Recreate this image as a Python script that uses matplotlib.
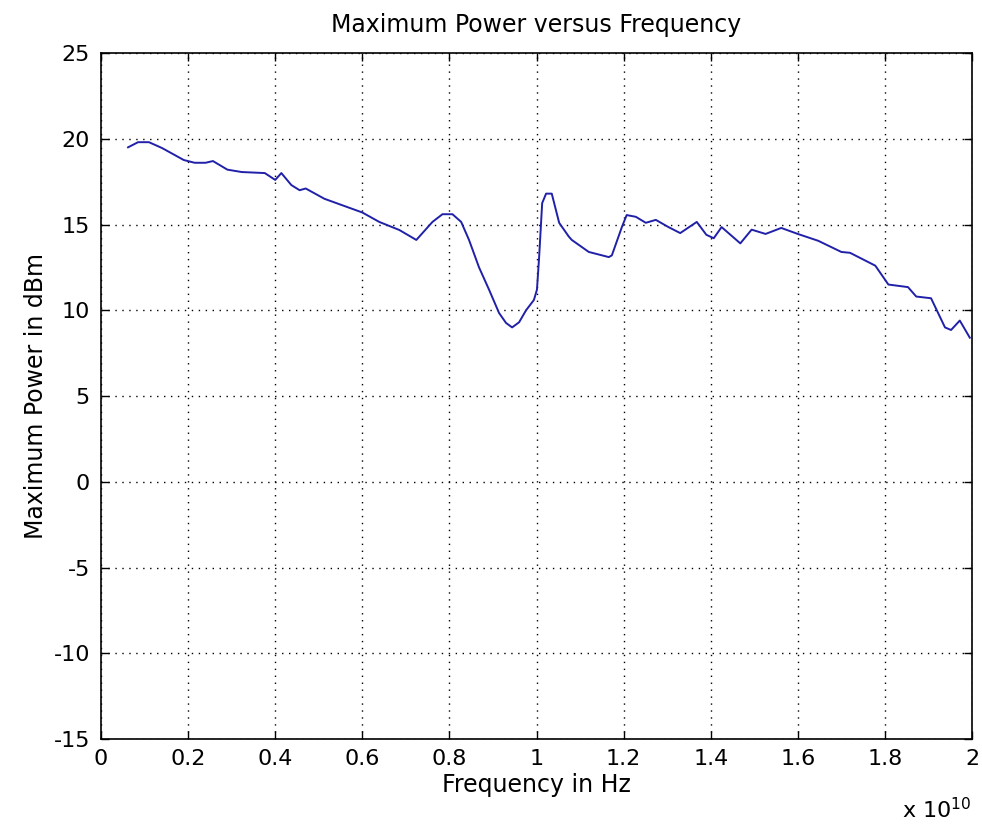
import numpy as np
import matplotlib.pyplot as plt
from matplotlib.ticker import FuncFormatter

# frequency in units of 1e10 Hz, power in dBm
freq_e10 = [0.062, 0.085, 0.11, 0.14, 0.19, 0.215, 0.24, 0.257, 0.29, 0.323,
            0.376, 0.40, 0.414, 0.437, 0.456, 0.47, 0.513, 0.60, 0.639, 0.685,
            0.724, 0.761, 0.784, 0.807, 0.827, 0.845, 0.868, 0.891, 0.914, 0.93,
            0.944, 0.96, 0.976, 0.994, 1.001, 1.006, 1.013, 1.022, 1.035, 1.052,
            1.074, 1.081, 1.12, 1.166, 1.173, 1.196, 1.207, 1.228, 1.251,
            1.274, 1.303, 1.33, 1.368, 1.39, 1.407, 1.425, 1.468, 1.494, 1.526,
            1.562, 1.60, 1.647, 1.70, 1.72, 1.778, 1.808, 1.853, 1.872, 1.906,
            1.938, 1.952, 1.972, 1.995]
power_dbm = [19.5, 19.8, 19.8, 19.46, 18.76, 18.6, 18.6, 18.7, 18.2, 18.06,
             18.0, 17.6, 18.0, 17.3, 17.0, 17.1, 16.5, 15.7, 15.15, 14.68,
             14.1, 15.15, 15.6, 15.6, 15.15, 14.1, 12.5, 11.2, 9.84, 9.26,
             9.0, 9.3, 10.0, 10.6, 11.2, 13.1, 16.25, 16.8, 16.8, 15.1,
             14.3, 14.1, 13.4, 13.1, 13.2, 14.85, 15.55, 15.45, 15.1,
             15.27, 14.85, 14.5, 15.15, 14.4, 14.2, 14.85, 13.9, 14.7, 14.45,
             14.8, 14.45, 14.05, 13.4, 13.35, 12.6, 11.5, 11.35, 10.8, 10.7,
             9.0, 8.85, 9.4, 8.4]

xticks = [0, 0.2, 0.4, 0.6, 0.8, 1, 1.2, 1.4, 1.6, 1.8, 2]
yticks = [-15, -10, -5, 0, 5, 10, 15, 20, 25]

plt.rcParams['font.family'] = ['DejaVu Sans']
plt.rcParams['axes.unicode_minus'] = False

fig = plt.figure(figsize=(9.82, 8.27), dpi=100)
ax = fig.add_axes([0.1029, 0.1064, 0.8869, 0.8295])

freq_hz = np.array(freq_e10) * 1e10
ax.plot(freq_hz, power_dbm, color='#2020a8', linewidth=1.4)

ax.set_xlim(0, 2e10)
ax.set_ylim(-15, 25)
ax.set_xticks(np.array(xticks) * 1e10)
ax.set_yticks(yticks)
ax.xaxis.set_major_formatter(FuncFormatter(lambda v, p: ('%g' % (v / 1e10))))
ax.tick_params(direction='in', length=6, width=1, labelsize=16, colors='black')
ax.tick_params(axis='x', pad=7)
ax.tick_params(axis='y', pad=8)
ax.tick_params(top=True, right=True)
ax.grid(True, color='black', linestyle=(0, (1, 4)), linewidth=1.0)
for s in ax.spines.values():
    s.set_linewidth(1.2)

ax.set_xlabel('Frequency in Hz', fontsize=17, labelpad=3)
ax.set_ylabel('Maximum Power in dBm', fontsize=17, labelpad=4)
ax.set_title('Maximum Power versus Frequency', fontsize=17, pad=15)
fig.text(902 / 982, 9 / 827, r'x 10$^{10}$', fontsize=16, va='baseline')

fig.savefig('out.png', dpi=100)
